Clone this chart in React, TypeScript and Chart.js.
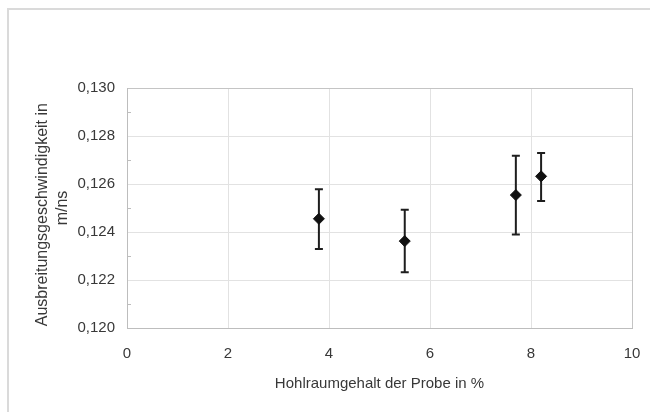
import React, { useEffect, useRef } from "react";
import { Chart, registerables } from "chart.js";

Chart.register(...registerables);

// Data
const hohlraumgehalt = [3.8, 5.5, 7.7, 8.2];
const geschwindigkeit = [0.12455, 0.12362, 0.12554, 0.12632];
const fehlerOben = [0.12578, 0.12493, 0.12718, 0.12729];
const fehlerUnten = [0.12329, 0.12232, 0.1239, 0.12529];

const yMinorTicks = [0.121, 0.123, 0.125, 0.127, 0.129];

const xTitle = "Hohlraumgehalt der Probe in %";
const yTitle = ["Ausbreitungsgeschwindigkeit in   ", "m/ns"];

const FONT = "'Liberation Sans', Arial, sans-serif";
const TEXT = "#383838";

const framePlugin = {
  id: "frame",
  beforeDraw(chart: any) {
    const { ctx, width, height } = chart;
    ctx.save();
    ctx.fillStyle = "#ffffff";
    ctx.fillRect(0, 0, width, height);
    ctx.strokeStyle = "#dadada";
    ctx.lineWidth = 2;
    ctx.beginPath();
    ctx.moveTo(width, 9);
    ctx.lineTo(8, 9);
    ctx.lineTo(8, height);
    ctx.stroke();
    ctx.restore();
  },
};

const errorBarPlugin = {
  id: "errorBars",
  beforeDatasetsDraw(chart: any) {
    const { ctx, scales } = chart;
    const xs = scales.x;
    const ys = scales.y;
    ctx.save();
    // minor ticks inside the y axis
    ctx.strokeStyle = "#bdbdbd";
    ctx.lineWidth = 1;
    yMinorTicks.forEach((v) => {
      const py = Math.round(ys.getPixelForValue(v)) + 0.5;
      ctx.beginPath();
      ctx.moveTo(xs.left, py);
      ctx.lineTo(xs.left + 4, py);
      ctx.stroke();
    });
    // error bars
    ctx.strokeStyle = "#1e1e1e";
    ctx.lineWidth = 2;
    hohlraumgehalt.forEach((x, i) => {
      const px = xs.getPixelForValue(x);
      const top = ys.getPixelForValue(fehlerOben[i]);
      const bot = ys.getPixelForValue(fehlerUnten[i]);
      ctx.beginPath();
      ctx.moveTo(px, top);
      ctx.lineTo(px, bot);
      ctx.moveTo(px - 4, top);
      ctx.lineTo(px + 4, top);
      ctx.moveTo(px - 4, bot);
      ctx.lineTo(px + 4, bot);
      ctx.stroke();
    });
    ctx.restore();
  },
};

export default function App() {
  const ref = useRef<HTMLCanvasElement>(null);

  useEffect(() => {
    if (!ref.current) return;
    const chart = new Chart(ref.current, {
      type: "scatter",
      data: {
        datasets: [
          {
            data: hohlraumgehalt.map((x, i) => ({ x, y: geschwindigkeit[i] })),
            pointStyle: "rectRot",
            pointRadius: 5.5,
            pointHoverRadius: 5.5,
            backgroundColor: "#111111",
            borderColor: "#111111",
            borderWidth: 1,
            showLine: false,
          },
        ],
      },
      options: {
        responsive: false,
        animation: false,
        layout: { padding: { left: 0, top: 88, right: 0, bottom: 0 } },
        plugins: {
          legend: { display: false },
          tooltip: { enabled: false },
        },
        scales: {
          x: {
            type: "linear",
            min: 0,
            max: 10,
            ticks: {
              stepSize: 2,
              padding: 17,
              color: TEXT,
              font: { family: FONT, size: 15 },
            },
            grid: {
              drawTicks: false,
              color: (c: any) => (c.tick && c.tick.value === 10 ? "#c4c4c4" : "#e2e2e2"),
              lineWidth: 1,
            },
            border: { color: "#bdbdbd", width: 1 },
            title: {
              display: true,
              text: xTitle,
              color: TEXT,
              font: { family: FONT, size: 15 },
              padding: { top: 0, bottom: 19 },
            },
            afterFit(scale: any) {
              scale.height = 84;
              scale.paddingRight = 18;
              scale.paddingLeft = 0;
            },
          },
          y: {
            type: "linear",
            min: 0.12,
            max: 0.13,
            ticks: {
              stepSize: 0.002,
              padding: 12,
              color: TEXT,
              font: { family: FONT, size: 15 },
              callback: (v: any) => Number(v).toFixed(3).replace(".", ","),
            },
            grid: {
              drawTicks: false,
              color: (c: any) => (c.tick && Math.abs(c.tick.value - 0.13) < 1e-9 ? "#c4c4c4" : "#e2e2e2"),
              lineWidth: 1,
            },
            border: { color: "#bdbdbd", width: 1 },
            title: {
              display: true,
              text: yTitle,
              color: TEXT,
              font: { family: FONT, size: 16, lineHeight: 1.2 },
              padding: { top: 33.4, bottom: 0 },
            },
            afterFit(scale: any) {
              scale.width = 127;
              scale.paddingTop = 0;
              scale.paddingBottom = 0;
            },
          },
        },
      },
      plugins: [framePlugin, errorBarPlugin],
    });
    return () => chart.destroy();
  }, []);

  return (
    <div style={{ position: "fixed", left: 0, top: 0, width: 650, height: 412, background: "#fff" }}>
      <canvas ref={ref} width={650} height={412} />
    </div>
  );
}
